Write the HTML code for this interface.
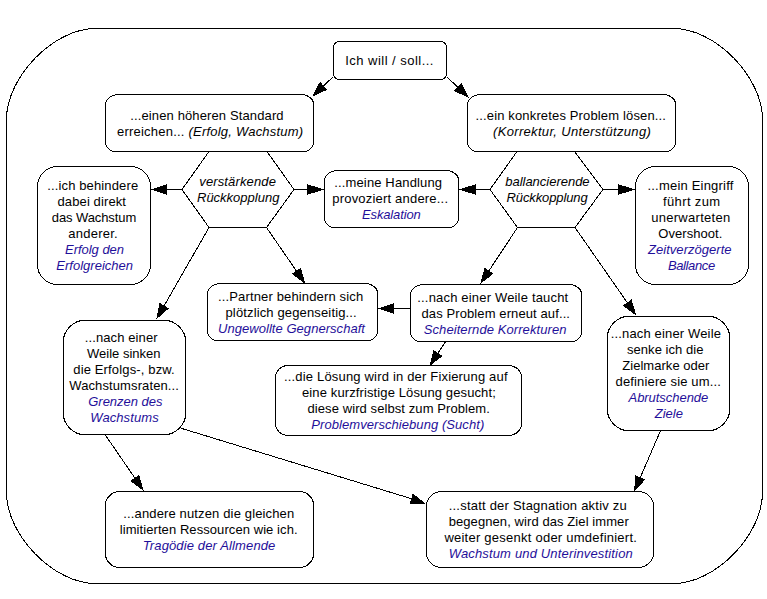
<!DOCTYPE html>
<html><head><meta charset="utf-8"><title>Archetypen</title>
<style>
html,body{margin:0;padding:0;background:#fff}
#c{position:relative;width:767px;height:599px;overflow:hidden;background:#fff;font-family:"Liberation Sans",sans-serif;font-size:13px;line-height:16px;color:#000}
svg{position:absolute;left:0;top:0}
.l{position:absolute;white-space:pre;height:16px}
.l b{font-weight:normal;font-style:italic;color:#1f0f9a}
</style></head><body>
<div id="c">
<svg width="767" height="599" viewBox="0 0 767 599" shape-rendering="crispEdges">
<path d="M95.5,28.5 L673.5,28.5 C715.33,28.5 762.5,76.73 762.5,119.5 L762.5,492.5 C762.5,535.27 715.33,583.5 673.5,583.5 L95.5,583.5 C53.67,583.5 6.5,535.27 6.5,492.5 L6.5,119.5 C6.5,76.73 53.67,28.5 95.5,28.5 Z" fill="#fff" stroke="#000"/>
<path d="M339.0,41.5 L441.0,41.5 C443.75,41.5 446.5,44.25 446.5,47.0 L446.5,74.0 C446.5,76.75 443.75,79.5 441.0,79.5 L339.0,79.5 C336.25,79.5 333.5,76.75 333.5,74.0 L333.5,47.0 C333.5,44.25 336.25,41.5 339.0,41.5 Z" fill="#fff" stroke="#000"/>
<path d="M117.5,94.5 L302.1,94.5 C307.80,94.5 313.5,99.00 313.5,103.5 L313.5,142.5 C313.5,147.00 309.00,151.5 304.5,151.5 L114.2,151.5 C109.85,151.5 105.5,146.85 105.5,142.2 L105.5,104.5 C105.5,99.50 111.50,94.5 117.5,94.5 Z" fill="#fff" stroke="#000"/>
<path d="M479.5,94.5 L664.1,94.5 C669.80,94.5 675.5,99.00 675.5,103.5 L675.5,142.5 C675.5,147.00 671.00,151.5 666.5,151.5 L476.2,151.5 C471.85,151.5 467.5,146.85 467.5,142.2 L467.5,104.5 C467.5,99.50 473.50,94.5 479.5,94.5 Z" fill="#fff" stroke="#000"/>
<path d="M56.5,166.5 L131.5,166.5 C141.00,166.5 150.5,176.00 150.5,185.5 L150.5,265.5 C150.5,275.00 141.00,284.5 131.5,284.5 L56.5,284.5 C47.00,284.5 37.5,275.00 37.5,265.5 L37.5,185.5 C37.5,176.00 47.00,166.5 56.5,166.5 Z" fill="#fff" stroke="#000"/>
<path d="M336.5,170.5 L447.1,170.5 C452.80,170.5 458.5,175.00 458.5,179.5 L458.5,218.5 C458.5,223.00 454.00,227.5 449.5,227.5 L333.2,227.5 C328.85,227.5 324.5,222.85 324.5,218.2 L324.5,180.5 C324.5,175.50 330.50,170.5 336.5,170.5 Z" fill="#fff" stroke="#000"/>
<path d="M654.5,166.5 L729.5,166.5 C739.00,166.5 748.5,176.00 748.5,185.5 L748.5,265.5 C748.5,275.00 739.00,284.5 729.5,284.5 L654.5,284.5 C645.00,284.5 635.5,275.00 635.5,265.5 L635.5,185.5 C635.5,176.00 645.00,166.5 654.5,166.5 Z" fill="#fff" stroke="#000"/>
<path d="M219.5,283.5 L366.1,283.5 C371.80,283.5 377.5,288.00 377.5,292.5 L377.5,331.5 C377.5,336.00 373.00,340.5 368.5,340.5 L216.2,340.5 C211.85,340.5 207.5,335.85 207.5,331.2 L207.5,293.5 C207.5,288.50 213.50,283.5 219.5,283.5 Z" fill="#fff" stroke="#000"/>
<path d="M422.5,284.5 L570.1,284.5 C575.80,284.5 581.5,289.00 581.5,293.5 L581.5,332.5 C581.5,337.00 577.00,341.5 572.5,341.5 L419.2,341.5 C414.85,341.5 410.5,336.85 410.5,332.2 L410.5,294.5 C410.5,289.50 416.50,284.5 422.5,284.5 Z" fill="#fff" stroke="#000"/>
<path d="M83.5,320.5 L165.5,320.5 C175.50,320.5 185.5,330.50 185.5,340.5 L185.5,414.5 C185.5,424.50 175.50,434.5 165.5,434.5 L83.5,434.5 C73.50,434.5 63.5,424.50 63.5,414.5 L63.5,340.5 C63.5,330.50 73.50,320.5 83.5,320.5 Z" fill="#fff" stroke="#000"/>
<path d="M627.5,316.5 L709.5,316.5 C719.50,316.5 729.5,326.50 729.5,336.5 L729.5,410.5 C729.5,420.50 719.50,430.5 709.5,430.5 L627.5,430.5 C617.50,430.5 607.5,420.50 607.5,410.5 L607.5,336.5 C607.5,326.50 617.50,316.5 627.5,316.5 Z" fill="#fff" stroke="#000"/>
<path d="M287.8,365.5 L509.2,365.5 C515.35,365.5 521.5,371.00 521.5,376.5 L521.5,424.5 C521.5,430.00 515.35,435.5 509.2,435.5 L287.8,435.5 C281.65,435.5 275.5,430.00 275.5,424.5 L275.5,376.5 C275.5,371.00 281.65,365.5 287.8,365.5 Z" fill="#fff" stroke="#000"/>
<path d="M119.0,491.5 L300.0,491.5 C306.75,491.5 313.5,498.00 313.5,504.5 L313.5,554.5 C313.5,561.00 306.75,567.5 300.0,567.5 L119.0,567.5 C112.25,567.5 105.5,561.00 105.5,554.5 L105.5,504.5 C105.5,498.00 112.25,491.5 119.0,491.5 Z" fill="#fff" stroke="#000"/>
<path d="M441.0,491.5 L639.0,491.5 C646.25,491.5 653.5,498.50 653.5,505.5 L653.5,553.5 C653.5,560.50 646.25,567.5 639.0,567.5 L441.0,567.5 C433.75,567.5 426.5,560.50 426.5,553.5 L426.5,505.5 C426.5,498.50 433.75,491.5 441.0,491.5 Z" fill="#fff" stroke="#000"/>
<polygon points="182,189.5 209,151.5 267,151.5 294,189.5 266.5,227.5 209,227.5" fill="#fff" stroke="#000"/>
<polygon points="490,189.5 517,151.5 574.5,151.5 603,189.5 575,227.5 517.5,227.5" fill="#fff" stroke="#000"/>
<line x1="333.5" y1="76.5" x2="323.66" y2="85.74" stroke="#000"/>
<polygon points="312,96.7 319.96,81.81 327.36,89.68" fill="#000"/>
<line x1="447" y1="77" x2="457.58" y2="87.00" stroke="#000"/>
<polygon points="469.2,98 453.87,90.93 461.29,83.08" fill="#000"/>
<line x1="182" y1="189.5" x2="167.00" y2="189.50" stroke="#000"/>
<polygon points="151,189.5 167.00,184.10 167.00,194.90" fill="#000"/>
<line x1="294" y1="189.5" x2="307.00" y2="189.50" stroke="#000"/>
<polygon points="324,189.5 307.00,194.90 307.00,184.10" fill="#000"/>
<line x1="490" y1="189.5" x2="476.00" y2="189.50" stroke="#000"/>
<polygon points="459,189.5 476.00,184.10 476.00,194.90" fill="#000"/>
<line x1="603" y1="189.5" x2="618.00" y2="189.50" stroke="#000"/>
<polygon points="635,189.5 618.00,194.90 618.00,184.10" fill="#000"/>
<line x1="209" y1="227.5" x2="164.21" y2="305.62" stroke="#000"/>
<polygon points="156.25,319.5 159.52,302.93 168.89,308.31" fill="#000"/>
<line x1="266.5" y1="227.5" x2="296.33" y2="270.82" stroke="#000"/>
<polygon points="305.4,284 291.88,273.88 300.77,267.76" fill="#000"/>
<line x1="517.5" y1="227.5" x2="489.06" y2="270.64" stroke="#000"/>
<polygon points="480.25,284 484.55,267.67 493.57,273.61" fill="#000"/>
<line x1="575" y1="227.5" x2="627.16" y2="302.47" stroke="#000"/>
<polygon points="636.3,315.6 622.73,305.55 631.59,299.38" fill="#000"/>
<line x1="410.5" y1="308.5" x2="394.00" y2="308.50" stroke="#000"/>
<polygon points="378,308.5 394.00,303.10 394.00,313.90" fill="#000"/>
<line x1="445.7" y1="341.5" x2="438.13" y2="352.95" stroke="#000"/>
<polygon points="429.3,366.3 433.62,349.98 442.63,355.93" fill="#000"/>
<line x1="105" y1="434.5" x2="134.70" y2="477.81" stroke="#000"/>
<polygon points="143.75,491 130.25,480.86 139.15,474.75" fill="#000"/>
<line x1="181.25" y1="428.3" x2="411.20" y2="498.62" stroke="#000"/>
<polygon points="426.5,504.3 409.62,504.38 412.78,493.46" fill="#000"/>
<line x1="660.6" y1="430.5" x2="640.35" y2="477.31" stroke="#000"/>
<polygon points="634,492 635.40,475.17 645.31,479.46" fill="#000"/>
</svg>
<span class="l" style="left:345.25px;top:52.50px;letter-spacing:0.471px">Ich will / soll...</span>
<span class="l" style="left:130.25px;top:108.00px;letter-spacing:0.125px">...einen höheren Standard</span>
<span class="l" style="left:117.00px;top:124.00px;letter-spacing:0.217px">erreichen... <i>(Erfolg, Wachstum)</i></span>
<span class="l" style="left:475.50px;top:108.00px;letter-spacing:0.148px">...ein konkretes Problem lösen...</span>
<span class="l" style="left:493.00px;top:124.00px;letter-spacing:0.330px"><i>(Korrektur, Unterstützung)</i></span>
<span class="l" style="left:47.25px;top:177.50px;letter-spacing:0.133px">...ich behindere</span>
<span class="l" style="left:57.50px;top:193.50px;letter-spacing:0.114px">dabei direkt</span>
<span class="l" style="left:51.75px;top:209.50px;letter-spacing:-0.091px">das Wachstum</span>
<span class="l" style="left:68.25px;top:225.50px;letter-spacing:0.250px">anderer.</span>
<span class="l" style="left:65.00px;top:241.50px;letter-spacing:-0.028px"><b>Erfolg den</b></span>
<span class="l" style="left:56.25px;top:257.50px;letter-spacing:0.021px"><b>Erfolgreichen</b></span>
<span class="l" style="left:334.25px;top:175.00px;letter-spacing:0.141px">...meine Handlung</span>
<span class="l" style="left:332.25px;top:191.00px;letter-spacing:0.197px">provoziert andere...</span>
<span class="l" style="left:362.00px;top:207.00px;letter-spacing:-0.139px"><b>Eskalation</b></span>
<span class="l" style="left:647.50px;top:177.50px;letter-spacing:0.200px">...mein Eingriff</span>
<span class="l" style="left:663.00px;top:193.50px;letter-spacing:0.375px">führt zum</span>
<span class="l" style="left:651.25px;top:209.50px;letter-spacing:0.273px">unerwarteten</span>
<span class="l" style="left:658.25px;top:225.50px;letter-spacing:0.056px">Overshoot.</span>
<span class="l" style="left:648.00px;top:241.50px;letter-spacing:0.038px"><b>Zeitverzögerte</b></span>
<span class="l" style="left:668.00px;top:257.50px;letter-spacing:-0.393px"><b>Ballance</b></span>
<span class="l" style="left:218.00px;top:289.00px;letter-spacing:0.146px">...Partner behindern sich</span>
<span class="l" style="left:225.50px;top:305.00px;letter-spacing:0.141px">plötzlich gegenseitig...</span>
<span class="l" style="left:218.00px;top:321.00px;letter-spacing:0.045px"><b>Ungewollte Gegnerschaft</b></span>
<span class="l" style="left:417.25px;top:290.00px;letter-spacing:0.180px">...nach einer Weile taucht</span>
<span class="l" style="left:421.50px;top:306.00px;letter-spacing:0.104px">das Problem erneut auf...</span>
<span class="l" style="left:423.75px;top:322.00px;letter-spacing:0.080px"><b>Scheiternde Korrekturen</b></span>
<span class="l" style="left:84.75px;top:329.50px;letter-spacing:0.104px">...nach einer</span>
<span class="l" style="left:87.00px;top:345.50px;letter-spacing:0.000px">Weile sinken</span>
<span class="l" style="left:73.25px;top:361.50px;letter-spacing:0.147px">die Erfolgs-, bzw.</span>
<span class="l" style="left:69.25px;top:377.50px;letter-spacing:0.109px">Wachstumsraten...</span>
<span class="l" style="left:88.25px;top:393.50px;letter-spacing:-0.025px"><b>Grenzen des</b></span>
<span class="l" style="left:90.25px;top:409.50px;letter-spacing:0.094px"><b>Wachstums</b></span>
<span class="l" style="left:610.75px;top:325.50px;letter-spacing:0.153px">...nach einer Weile</span>
<span class="l" style="left:627.00px;top:341.50px;letter-spacing:0.042px">senke ich die</span>
<span class="l" style="left:622.25px;top:357.50px;letter-spacing:0.038px">Zielmarke oder</span>
<span class="l" style="left:615.50px;top:373.50px;letter-spacing:0.153px">definiere sie um...</span>
<span class="l" style="left:628.50px;top:389.50px;letter-spacing:-0.045px"><b>Abrutschende</b></span>
<span class="l" style="left:654.75px;top:405.50px;letter-spacing:0.000px"><b>Ziele</b></span>
<span class="l" style="left:284.00px;top:368.50px;letter-spacing:0.178px">...die Lösung wird in der Fixierung auf</span>
<span class="l" style="left:302.00px;top:384.50px;letter-spacing:0.117px">eine kurzfristige Lösung gesucht;</span>
<span class="l" style="left:307.50px;top:400.50px;letter-spacing:0.086px">diese wird selbst zum Problem.</span>
<span class="l" style="left:311.25px;top:416.50px;letter-spacing:0.067px"><b>Problemverschiebung (Sucht)</b></span>
<span class="l" style="left:123.25px;top:505.50px;letter-spacing:0.143px">...andere nutzen die gleichen</span>
<span class="l" style="left:119.75px;top:521.50px;letter-spacing:0.075px">limitierten Ressourcen wie ich.</span>
<span class="l" style="left:142.75px;top:537.50px;letter-spacing:0.125px"><b>Tragödie der Allmende</b></span>
<span class="l" style="left:448.70px;top:497.50px;letter-spacing:0.219px">...statt der Stagnation aktiv zu</span>
<span class="l" style="left:448.70px;top:513.50px;letter-spacing:0.082px">begegnen, wird das Ziel immer</span>
<span class="l" style="left:444.40px;top:529.50px;letter-spacing:0.242px">weiter gesenkt oder umdefiniert.</span>
<span class="l" style="left:448.70px;top:545.50px;letter-spacing:0.157px"><b>Wachstum und Unterinvestition</b></span>
<span class="l" style="left:199.25px;top:173.50px;letter-spacing:0.136px"><i>verstärkende</i></span>
<span class="l" style="left:197.00px;top:189.50px;letter-spacing:0.000px"><i>Rückkopplung</i></span>
<span class="l" style="left:505.25px;top:173.50px;letter-spacing:-0.019px"><i>ballancierende</i></span>
<span class="l" style="left:506.50px;top:189.50px;letter-spacing:-0.114px"><i>Rückkopplung</i></span>
</div>
</body></html>
